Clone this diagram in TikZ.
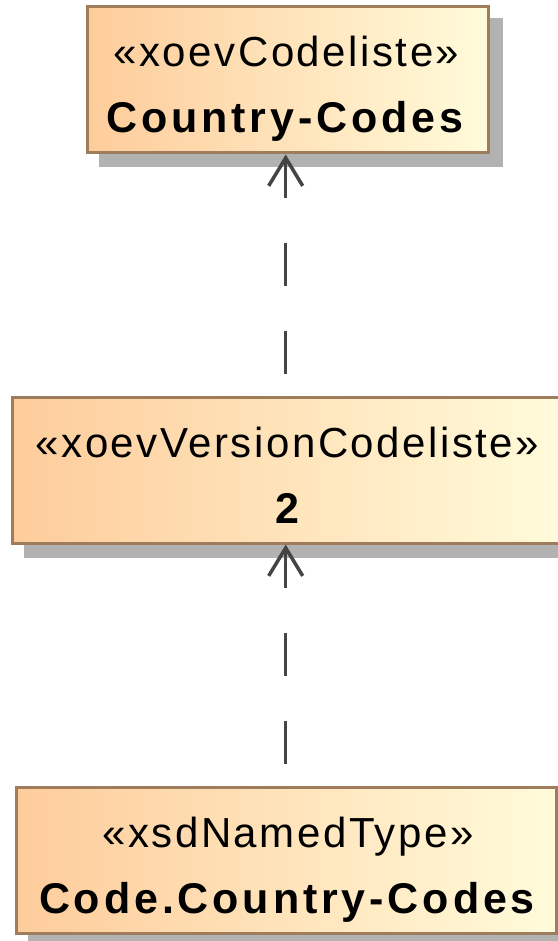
\documentclass[tikz,border=0pt]{standalone}
\usepackage{fontspec}
\setmainfont{Liberation Sans}
\newfontfamily\stfont{Liberation Sans}[LetterSpace=6]
\newfontfamily\nmfont{Liberation Sans}[LetterSpace=9]
\usetikzlibrary{arrows.meta,backgrounds,calc}
\definecolor{boxl}{RGB}{254,204,155}
\definecolor{boxr}{RGB}{255,251,218}
\definecolor{boxb}{RGB}{158,124,92}
\definecolor{shd}{RGB}{178,178,178}
\definecolor{arrc}{RGB}{68,68,68}
\begin{document}
\begin{tikzpicture}[x=1pt,y=-1pt,
  umlbox/.style={draw=boxb, line width=3pt, left color=boxl, right color=boxr, minimum height=146pt, inner sep=0pt},
  sttext/.style={anchor=base, inner sep=0pt, font=\stfont\fontsize{42}{50}\selectfont},
  nmtext/.style={anchor=base, inner sep=0pt, font=\nmfont\bfseries\fontsize{43}{50}\selectfont},
  dep/.style={draw=arrc, line width=3.5pt, dash pattern=on 43pt off 45pt, dash phase=5pt, {Straight Barb[length=28pt,width=34pt]}-},
  shadowbox/.style={fill=shd}]
\useasboundingbox (0,0) rectangle (557,941);
\node[umlbox, minimum width=401pt] (cl) at (287.5,80) {};
\node[umlbox, minimum width=548pt] (vc) at (286,470) {};
\node[umlbox, minimum width=540pt] (nt) at (286,860) {};
\begin{scope}[on background layer]
  \foreach \b in {cl,vc,nt}{
    \fill[shadowbox] ($(\b.south west)+(13,13)$) rectangle ($(\b.north east)+(13,13)$);
  }
\end{scope}
\node[sttext] (clst) at (286.5,67) {«xoevCodeliste»};
\node[nmtext] (clnm) at (285,133) {Country-Codes};
\node[sttext] (vcst) at (287.5,457) {«xoevVersionCodeliste»};
\node[nmtext] (vcnm) at (287.5,523) {2};
\node[sttext] (ntst) at (288,847) {«xsdNamedType»};
\node[nmtext] (ntnm) at (287,913) {Code.Country-Codes};
\draw[dep] (cl.south -| 285.7,0) -- (vc.north -| 285.7,0);
\draw[dep] (vc.south -| 285.7,0) -- (nt.north -| 285.7,0);
\end{tikzpicture}
\end{document}
